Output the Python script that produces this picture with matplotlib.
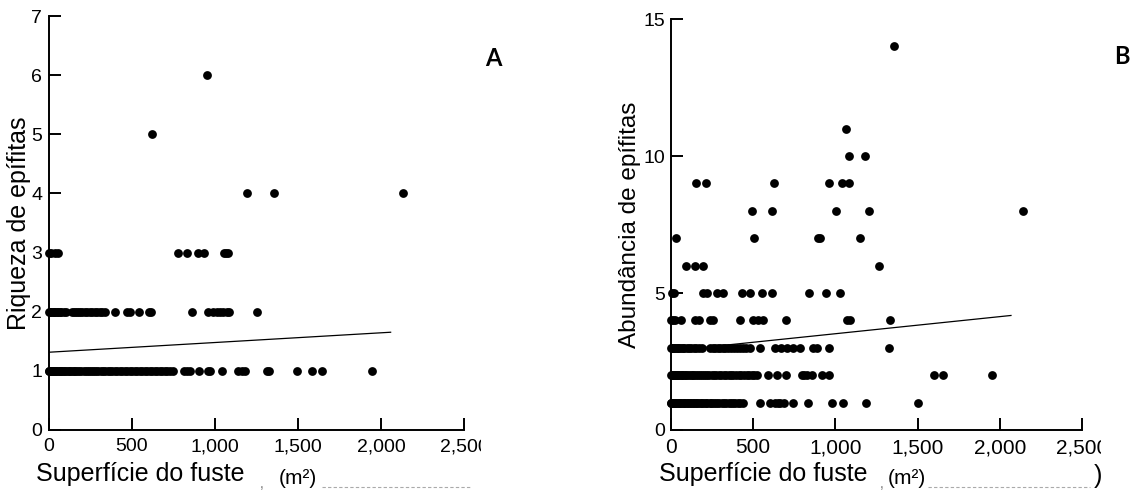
import numpy as np
import matplotlib
matplotlib.use("Agg")
import matplotlib.pyplot as plt
from matplotlib import font_manager
from matplotlib.lines import Line2D
from matplotlib.transforms import Bbox, TransformedBbox

installed = {f.name for f in font_manager.fontManager.ttflist}
REG = 'Liberation Sans' if 'Liberation Sans' in installed else 'DejaVu Sans'
NARROW = 'Liberation Sans Narrow' if 'Liberation Sans Narrow' in installed else REG
BOLD = 'Lato' if 'Lato' in installed else REG

# stem surface (m2) of each tree, grouped by epiphyte richness
riq_1 = [0, 2, 5, 8, 12, 16, 20, 25, 30, 36, 42, 50, 58, 65, 72, 80, 90, 98, 108, 118,
         128, 138, 148, 158, 170, 182, 195, 208, 220, 232, 245, 258, 272, 285, 298, 312,
         325, 340, 355, 368, 382, 398, 412, 428, 442, 458, 472, 488, 502, 518, 532, 548,
         562, 578, 592, 608, 622, 638, 652, 668, 682, 698, 712, 728, 745,
         815, 832, 850, 905, 955, 972, 1040, 1140, 1162, 1180, 1315, 1328, 1495, 1585,
         1645, 1945]
riq_2 = [0, 6, 14, 22, 30, 38, 46, 55, 65, 75, 88, 100, 140, 150, 162, 175, 188, 200,
         215, 228, 245, 262, 275, 290, 305, 320, 340, 395, 472, 490, 545, 604, 614,
         860, 955, 990, 1010, 1030, 1050, 1070, 1082, 1255]
riq_3 = [0, 10, 38, 55, 775, 832, 895, 935, 1055, 1066, 1080]
riq_4 = [1195, 1355, 2135]
riq_5 = [622]
riq_6 = [954]

# stem surface (m2) grouped by epiphyte abundance
abu_1 = [0, 3, 6, 10, 14, 18, 22, 27, 33, 40, 47, 55, 62, 70, 78, 88, 95, 105, 115, 124,
         133, 142, 152, 160, 170, 180, 190, 200, 212, 222, 235, 245, 258, 270, 282, 295,
         308, 320, 335, 350, 362, 378, 392, 405, 420, 440,
         541, 602, 633, 650, 664, 686, 741, 836, 978, 1049, 1186, 1505]
abu_2 = [0, 4, 8, 12, 17, 22, 28, 35, 42, 50, 58, 66, 75, 84, 94, 104, 114, 125, 136,
         147, 158, 170, 182, 195, 208, 220, 234, 248, 262, 276, 290, 305, 320, 335, 350,
         365, 380, 396, 412, 428, 444, 460, 475, 490, 506, 521,
         590, 645, 697, 795, 812, 830, 856, 917, 960, 1598, 1652, 1955]
abu_3 = [0, 4, 9, 14, 20, 27, 34, 42, 50, 60, 70, 82, 95, 108, 122, 138, 152, 168, 187,
         240, 255, 270, 285, 300, 315, 330, 348, 365, 382, 400, 418, 436, 455, 478,
         541, 630, 670, 703, 744, 786, 862, 888, 962, 1324]
abu_4 = [0, 12, 24, 59, 146, 170, 237, 257, 420, 501, 531, 557, 699, 1072, 1086, 1332]
abu_5 = [4, 20, 197, 217, 282, 318, 430, 481, 551, 612, 841, 943, 1028]
abu_6 = [89, 148, 195, 1263]
abu_7 = [29, 503, 895, 905, 1149]
abu_8 = [492, 615, 1005, 1204, 2140]
abu_9 = [153, 214, 624, 962, 1039, 1083]
abu_10 = [1083, 1182]
abu_11 = [1065]
abu_14 = [1355]

# fitted regression lines (end points)
fit_x_riq = [0, 2058]
fit_y_riq = [1.315, 1.653]
fit_x_abu = [0, 2068]
fit_y_abu = [2.89, 4.18]

x_ticks = [0, 500, 1000, 1500, 2000, 2500]
x_ticklabels = ['0', '500', '1,000', '1,500', '2,000', '2,500']

riq_groups = [(1, riq_1), (2, riq_2), (3, riq_3), (4, riq_4), (5, riq_5), (6, riq_6)]
abu_groups = [(1, abu_1), (2, abu_2), (3, abu_3), (4, abu_4), (5, abu_5), (6, abu_6),
              (7, abu_7), (8, abu_8), (9, abu_9), (10, abu_10), (11, abu_11), (14, abu_14)]

W, H = 1138, 491
fig = plt.figure(figsize=(W / 100, H / 100), dpi=100)


def px(x, y):
    return x / W, 1 - y / H


def style_axes(ax, ylim, yticks, ytick_font, ytick_size, xtick_font, xtick_size, clip_x):
    ax.set_xlim(0, 2500)
    ax.set_ylim(*ylim)
    for s in ['top', 'right']:
        ax.spines[s].set_visible(False)
    for s in ['left', 'bottom']:
        ax.spines[s].set_linewidth(1.4)
    ax.set_xticks(x_ticks)
    ax.set_xticklabels(x_ticklabels, fontfamily=xtick_font, fontsize=xtick_size)
    ax.set_yticks(yticks)
    ax.set_yticklabels([str(v) for v in yticks], fontfamily=ytick_font, fontsize=ytick_size)
    ax.tick_params(direction='in', length=8.5, width=1.4, pad=5)
    ax.tick_params(axis='x', pad=6)
    # last x tick label runs off the edge of the panel
    lab = ax.get_xticklabels()[-1]
    box = Bbox.from_extents(0, 0, clip_x / W, 1)
    lab.set_clip_box(TransformedBbox(box, fig.transFigure))
    lab.set_clip_on(True)


# richness panel
ax1 = fig.add_axes([49 / W, 61 / H, 415 / W, 414 / H])
for lvl, xs in riq_groups:
    ax1.scatter(xs, [lvl] * len(xs), s=40, color='black', linewidths=0, clip_on=False, zorder=3)
ax1.plot(fit_x_riq, fit_y_riq, color='black', lw=0.9)
style_axes(ax1, (0, 7), list(range(0, 8)), REG, 14, NARROW, 14, 481)
ax1.set_ylabel('Riqueza de epífitas', fontfamily=REG, fontsize=18)
ax1.yaxis.set_label_coords(-0.043, 0.5)
ax1.set_xlabel('Superfície do fuste', fontfamily=REG, fontsize=18, ha='left', va='top')
ax1.xaxis.set_label_coords(-0.031, -0.078)

# abundance panel
ax2 = fig.add_axes([671 / W, 61 / H, 411 / W, 411 / H])
for lvl, xs in abu_groups:
    ax2.scatter(xs, [lvl] * len(xs), s=40, color='black', linewidths=0, clip_on=False, zorder=3)
ax2.plot(fit_x_abu, fit_y_abu, color='black', lw=0.9)
style_axes(ax2, (0, 15), [0, 5, 10, 15], NARROW, 14, NARROW, 15, 1101)
ax2.tick_params(axis='y', pad=4)
ax2.set_ylabel('Abundância de epífitas', fontfamily=REG, fontsize=17.5)
ax2.yaxis.set_label_coords(-0.073, 0.5)
ax2.set_xlabel('Superfície do fuste', fontfamily=REG, fontsize=18, ha='left', va='top')
ax2.xaxis.set_label_coords(-0.029, -0.078)

# unit labels and leftover caption fragments
fig.text(*px(298, 479), '(m²)', fontfamily=REG, fontsize=15, ha='center', va='center')
fig.text(*px(907, 479), '(m²)', fontfamily=REG, fontsize=15, ha='center', va='center')
fig.text(*px(1098, 476), ')', fontfamily=REG, fontsize=18, ha='center', va='center')
fig.text(*px(262, 484), ',', fontfamily=REG, fontsize=10, color='#777777', ha='center', va='center')
fig.text(*px(882, 484), ',', fontfamily=REG, fontsize=10, color='#777777', ha='center', va='center')
for x0, x1 in [(322, 472), (928, 1090)]:
    fig.add_artist(Line2D([x0 / W, x1 / W], [1 - 487 / H] * 2, transform=fig.transFigure,
                          color='#aaaaaa', lw=0.8, ls=(0, (3, 2))))

fig.text(*px(493, 58), 'A', fontfamily=BOLD, fontweight='bold', fontsize=17, ha='center', va='center')
fig.text(*px(1122, 56), 'B', fontfamily=BOLD, fontweight='bold', fontsize=17, ha='center', va='center')

fig.savefig('out.png', dpi=100)
